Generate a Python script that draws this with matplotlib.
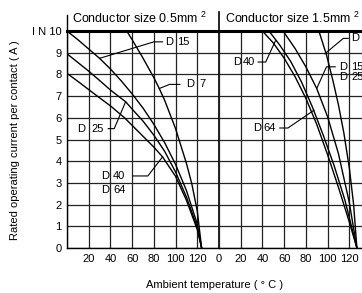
import matplotlib
matplotlib.use("Agg")
import matplotlib.pyplot as plt
from matplotlib.lines import Line2D

plt.rcParams["font.family"] = ["Liberation Sans", "DejaVu Sans"]
plt.rcParams["mathtext.fontset"] = "custom"
plt.rcParams["mathtext.rm"] = "Liberation Sans"

# Conductor size 0.5 mm2 (temperature degC, current A)
t05_d15 = [0, 10, 20, 30, 40, 50, 60, 70, 80, 90, 100, 110, 120, 124]
i05_d15 = [10, 9.6, 9.17, 8.74, 8.25, 7.7, 7.1, 6.45, 5.7, 4.85, 3.85, 2.65, 1.1, 0]
t05_d7 = [55, 60, 70, 80, 85, 90, 100, 110, 115, 120, 124]
i05_d7 = [10, 9.6, 8.75, 7.85, 7.35, 6.8, 5.5, 3.9, 2.95, 1.7, 0]
t05_d25 = [0, 10, 20, 30, 40, 54, 60, 70, 80, 90, 100, 110, 120, 124]
i05_d25 = [8.95, 8.55, 8.15, 7.72, 7.28, 6.74, 6.4, 5.85, 5.2, 4.45, 3.5, 2.35, 0.95, 0]
# D40 and D64 share one curve at 0.5 mm2
t05_d40 = [0, 10, 20, 30, 40, 53, 60, 70, 80, 88, 100, 110, 120, 124]
i05_d40 = [8.05, 7.68, 7.3, 6.92, 6.55, 6.0, 5.65, 5.15, 4.65, 4.2, 3.3, 2.2, 0.85, 0]

# Conductor size 1.5 mm2
t15_d40 = [40, 50, 60, 70, 80, 90, 100, 110, 120, 127]
i15_d40 = [10, 9.45, 8.75, 7.9, 6.9, 5.7, 4.3, 2.8, 1.2, 0]
t15_d64 = [46, 56, 66, 76, 86, 96, 106, 116, 127]
i15_d64 = [10, 9.35, 8.6, 7.65, 6.5, 5.2, 3.8, 2.2, 0]
t15_d15 = [59, 70, 80, 90, 100, 110, 120, 127]
i15_d15 = [10, 9.2, 8.35, 7.35, 6.05, 4.35, 2.1, 0]
t15_d7 = [92, 99, 105, 110, 115, 120, 124, 127]
i15_d7 = [10, 8.9, 7.7, 6.6, 5.3, 3.7, 2.0, 0]

x_ticks = [0, 20, 40, 60, 80, 100, 120, 140]
y_ticks = [0, 1, 2, 3, 4, 5, 6, 7, 8, 9, 10]
y_labels = ["0", "1", "2", "3", "4", "5", "6", "7", "8", "9", "I N 10"]

W, H = 362, 293
fig = plt.figure(figsize=(W / 100, H / 100), dpi=100)
ax1 = fig.add_axes([67 / W, 45 / H, 152 / W, 217 / H])
ax2 = fig.add_axes([219 / W, 45 / H, 152 / W, 217 / H])

for ax in (ax1, ax2):
    ax.set_xlim(0, 140)
    ax.set_ylim(0, 10)
    ax.set_xticks(x_ticks)
    ax.set_yticks(y_ticks)
    ax.grid(True, color="#222222", linewidth=0.9)
    ax.set_axisbelow(True)
    ax.tick_params(length=0, labelsize=8, pad=4)
    for s in ax.spines.values():
        s.set_color("black")
        s.set_linewidth(1.0)
    ax.spines["top"].set_linewidth(2.2)

ax1.set_xticklabels(["", "20", "40", "60", "80", "100", "120", ""])
ax1.set_yticklabels(y_labels)
ax2.set_xticklabels(["0", "20", "40", "60", "80", "100", "120", ""])
ax2.set_yticklabels([])
ax2.spines["left"].set_visible(False)
ax1.spines["right"].set_linewidth(1.2)

lw = 1.0
for t, i in [(t05_d15, i05_d15), (t05_d7, i05_d7), (t05_d25, i05_d25),
             (t05_d40, i05_d40)]:
    ax1.plot(t, i, color="black", linewidth=lw)
for t, i in [(t15_d40, i15_d40), (t15_d64, i15_d64), (t15_d15, i15_d15),
             (t15_d7, i15_d7)]:
    ax2.plot(t, i, color="black", linewidth=lw)


def tag(ax, parts, y, leader=None):
    # leader: polyline from the label to the curve
    if leader:
        xs, ys = zip(*leader)
        ax.plot(xs, ys, color="black", linewidth=0.8, clip_on=False)
    for txt, xx in parts:
        ax.text(xx, y, txt, fontsize=8, va="center", ha="left", clip_on=False)


# left panel labels
tag(ax1, [("D", 90.5), ("15", 101)], 9.5, [(88, 9.5), (80, 9.5), (30, 8.74)])
tag(ax1, [("D", 109.5), ("7", 122)], 7.54, [(104, 7.54), (94.5, 7.54), (85, 7.35)])
tag(ax1, [("D", 9.5), ("25", 22.5)], 5.5, [(38, 5.5), (43.5, 5.5), (54, 6.74)])
tag(ax1, [("D", 31), ("40", 42.5)], 3.32, [(60.5, 3.32), (74.5, 3.32), (88, 4.2)])
tag(ax1, [("D", 31), ("64", 42.5)], 2.69)

# right panel labels
tag(ax2, [("D", 12.9), ("40", 22.3)], 8.57, [(36, 8.57), (43, 8.57), (52, 9.55)])
tag(ax2, [("D", 31.3), ("64", 40.7)], 5.53, [(56, 5.53), (63.5, 5.53), (87.5, 6.35)])
tag(ax2, [("D", 111), ("15", 122)], 8.35, [(107, 8.35), (99, 8.35), (90, 7.35)])
tag(ax2, [("D", 111), ("25", 122)], 7.9)
tag(ax2, [("D", 122)], 9.66, [(119, 9.66), (114.5, 9.66), (97.5, 8.95)])

# vertical strokes above the plot frame
fig.add_artist(Line2D([67 / W, 67 / W], [1 - 31 / H, 1 - 15 / H], color="black",
                      linewidth=1.0, transform=fig.transFigure))
fig.add_artist(Line2D([219 / W, 219 / W], [1 - 31 / H, 1 - 12 / H], color="black",
                      linewidth=1.2, transform=fig.transFigure))

fig.text(139 / W, 1 - 18 / H, "Conductor size 0.5mm$^{\\ 2}$", fontsize=9,
         ha="center", va="center")
fig.text(292 / W, 1 - 18 / H, "Conductor size 1.5mm$^{\\ 2}$", fontsize=9,
         ha="center", va="center")
fig.text(15 / W, 1 - 140 / H, "Rated operating current per contact ( A )",
         fontsize=8, rotation=90, ha="center", va="center")
fig.text(215 / W, 1 - 285 / H, "Ambient temperature ( \u00b0 C )", fontsize=8,
         ha="center", va="center")

fig.savefig("out.png", dpi=100)
